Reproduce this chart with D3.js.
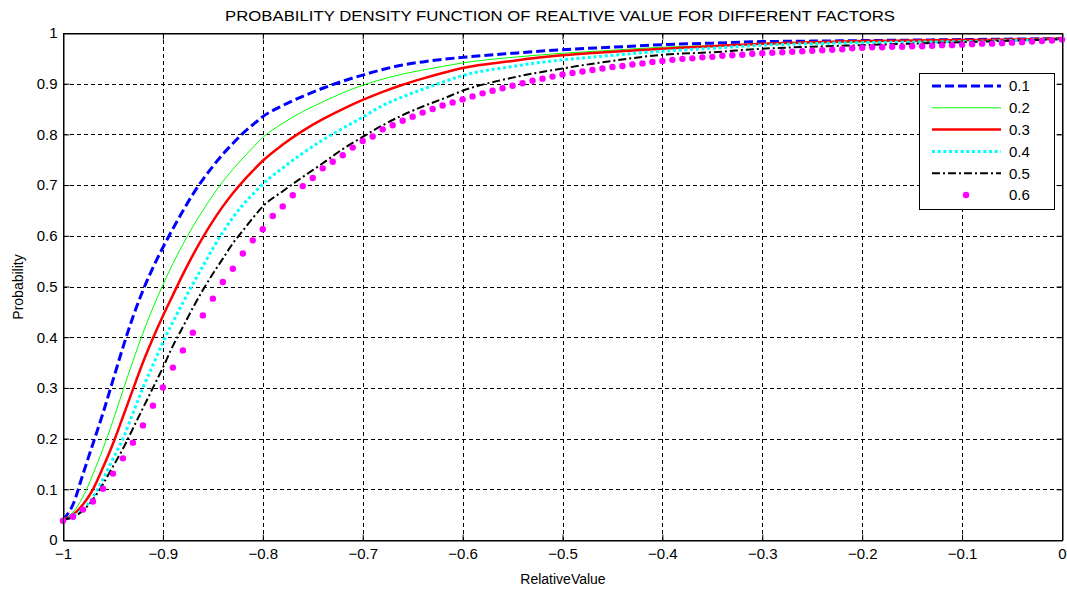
<!DOCTYPE html>
<html><head><meta charset="utf-8">
<script src="https://cdn.jsdelivr.net/npm/d3@7"></script>
<style>
html,body{margin:0;padding:0;background:#fff;}
svg{display:block;font-family:"Liberation Sans",Arial,sans-serif;}
</style></head><body>
<svg id="c" width="1067" height="590"></svg>
<script>
// ---- data ----
const titleText = "PROBABILITY DENSITY FUNCTION OF REALTIVE VALUE FOR DIFFERENT FACTORS";
const xLabel = "RelativeValue";
const yLabel = "Probability";
const xTicks = [-1,-0.9,-0.8,-0.7,-0.6,-0.5,-0.4,-0.3,-0.2,-0.1,0];
const xTickLabels = ["\u22121","\u22120.9","\u22120.8","\u22120.7","\u22120.6","\u22120.5","\u22120.4","\u22120.3","\u22120.2","\u22120.1","0"];
const yTicks = [0,0.1,0.2,0.3,0.4,0.5,0.6,0.7,0.8,0.9,1];
const yTickLabels = ["0","0.1","0.2","0.3","0.4","0.5","0.6","0.7","0.8","0.9","1"];
const seriesNames = ["0.1","0.2","0.3","0.4","0.5","0.6"];

// x positions for line series
const lineX = [-1.00,-0.99,-0.98,-0.97,-0.96,-0.95,-0.94,-0.93,-0.92,-0.91,-0.90,
  -0.89,-0.88,-0.87,-0.86,-0.85,-0.84,-0.83,-0.82,-0.81,-0.80,
  -0.78,-0.76,-0.74,-0.72,-0.70,-0.68,-0.66,-0.64,-0.62,-0.60,
  -0.55,-0.50,-0.45,-0.40,-0.35,-0.30,-0.25,-0.20,-0.15,-0.10,-0.05,0];
const s01 = [0.040,0.070,0.130,0.190,0.250,0.315,0.380,0.440,0.492,0.537,0.577,
  0.614,0.649,0.682,0.711,0.737,0.761,0.782,0.802,0.819,0.835,
  0.857,0.875,0.891,0.905,0.917,0.928,0.937,0.943,0.948,0.952,
  0.960,0.967,0.972,0.977,0.980,0.983,0.984,0.985,0.986,0.987,0.988,0.989];
const s02 = [0.040,0.055,0.085,0.130,0.180,0.235,0.295,0.353,0.408,0.458,0.503,
  0.545,0.583,0.618,0.650,0.680,0.707,0.731,0.753,0.774,0.794,
  0.822,0.845,0.864,0.882,0.897,0.909,0.919,0.927,0.934,0.941,
  0.952,0.960,0.966,0.972,0.975,0.978,0.980,0.982,0.984,0.985,0.987,0.989];
const s03 = [0.040,0.050,0.070,0.100,0.143,0.190,0.243,0.297,0.350,0.398,0.442,
  0.483,0.524,0.562,0.597,0.629,0.658,0.684,0.707,0.728,0.748,
  0.780,0.807,0.830,0.850,0.868,0.884,0.898,0.910,0.921,0.931,
  0.945,0.956,0.963,0.969,0.974,0.979,0.982,0.984,0.985,0.986,0.987,0.989];
const s04 = [0.040,0.047,0.060,0.085,0.120,0.160,0.200,0.250,0.300,0.345,0.390,
  0.430,0.468,0.505,0.540,0.575,0.607,0.636,0.661,0.682,0.702,
  0.734,0.763,0.789,0.812,0.834,0.857,0.874,0.889,0.903,0.916,
  0.934,0.947,0.956,0.964,0.970,0.976,0.979,0.981,0.982,0.983,0.985,0.988];
const s05 = [0.040,0.045,0.058,0.080,0.110,0.145,0.180,0.220,0.260,0.300,0.340,
  0.383,0.420,0.458,0.493,0.525,0.555,0.585,0.610,0.635,0.658,
  0.688,0.716,0.743,0.771,0.795,0.818,0.838,0.855,0.870,0.886,
  0.912,0.930,0.945,0.957,0.962,0.969,0.973,0.976,0.979,0.982,0.985,0.988];
// marker series 0.6, x from -1 to 0 step 0.01
const dotX = d3.range(101).map(i => -1 + i / 100);
const s06 = [0.038,0.046,0.060,0.076,0.101,0.131,0.161,0.192,0.226,0.265,
  0.301,0.340,0.374,0.409,0.443,0.476,0.509,0.535,0.565,0.591,
  0.613,0.639,0.658,0.680,0.698,0.714,0.733,0.746,0.759,0.774,
  0.787,0.796,0.810,0.818,0.827,0.835,0.843,0.850,0.857,0.863,
  0.869,0.875,0.881,0.886,0.891,0.896,0.901,0.906,0.910,0.914,
  0.918,0.921,0.924,0.927,0.930,0.933,0.935,0.938,0.940,0.943,
  0.945,0.947,0.949,0.950,0.952,0.953,0.955,0.956,0.957,0.959,
  0.960,0.961,0.962,0.963,0.964,0.965,0.966,0.967,0.968,0.970,
  0.971,0.972,0.972,0.973,0.973,0.974,0.974,0.975,0.976,0.976,
  0.977,0.978,0.979,0.979,0.980,0.981,0.982,0.983,0.984,0.985,0.987];

// ---- drawing ----
const svg = d3.select("#c");
const L = 63, R = 1062, T = 33, B = 540;
const x = d3.scaleLinear().domain([-1, 0]).range([L, R]);
const y = d3.scaleLinear().domain([0, 1]).range([B, T]);

// grid
const grid = svg.append("g").attr("stroke", "#000").attr("stroke-width", 1).attr("stroke-dasharray", "4,3");
grid.selectAll("line.v").data(xTicks.slice(1, -1)).join("line")
  .attr("x1", d => Math.round(x(d)) + 0.5).attr("x2", d => Math.round(x(d)) + 0.5)
  .attr("y1", T).attr("y2", B);
grid.selectAll("line.h").data(yTicks.slice(1, -1)).join("line")
  .attr("y1", d => Math.round(y(d)) + 0.5).attr("y2", d => Math.round(y(d)) + 0.5)
  .attr("x1", L).attr("x2", R);

// axes
const fmtX = d => xTickLabels[xTicks.indexOf(d)];
const fmtY = d => yTickLabels[yTicks.indexOf(d)];
const gB = svg.append("g").attr("transform", `translate(0,${B + 0.5})`)
  .call(d3.axisBottom(x).tickValues(xTicks).tickFormat(fmtX).tickSizeInner(-6).tickSizeOuter(0).tickPadding(8));
const gL = svg.append("g").attr("transform", `translate(${L + 0.5},0)`)
  .call(d3.axisLeft(y).tickValues(yTicks).tickFormat(fmtY).tickSizeInner(-6).tickSizeOuter(0).tickPadding(6));
const gT = svg.append("g").attr("transform", `translate(0,${T + 0.5})`)
  .call(d3.axisTop(x).tickValues(xTicks).tickFormat("").tickSizeInner(-6).tickSizeOuter(0));
const gR = svg.append("g").attr("transform", `translate(${R + 0.5},0)`)
  .call(d3.axisRight(y).tickValues(yTicks).tickFormat("").tickSizeInner(-6).tickSizeOuter(0));
[gB, gL, gT, gR].forEach(g => {
  g.selectAll("path,line").attr("stroke", "#000").attr("stroke-width", 1);
  g.selectAll("text").attr("fill", "#000").style("font-size", "15px").style("font-family", "'Liberation Sans', Arial, sans-serif");
});

// series
const styles = [
  {color: "#0000ff", width: 3, dash: "9,4"},
  {color: "#00ff00", width: 1, dash: null},
  {color: "#ff0000", width: 2.5, dash: null},
  {color: "#00ffff", width: 3, dash: "3,2.7"},
  {color: "#000000", width: 2, dash: "8,3,2,3"}
];
const lineSeries = [s01, s02, s03, s04, s05];
const line = d3.line().x(d => x(d[0])).y(d => y(d[1])).curve(d3.curveMonotoneX);
lineSeries.forEach((s, i) => {
  svg.append("path").datum(lineX.map((xv, j) => [xv, s[j]]))
    .attr("fill", "none").attr("stroke", styles[i].color)
    .attr("stroke-width", styles[i].width)
    .attr("stroke-dasharray", styles[i].dash)
    .attr("d", line);
});
svg.append("g").selectAll("circle").data(dotX.map((xv, j) => [xv, s06[j]])).join("circle")
  .attr("cx", d => x(d[0])).attr("cy", d => y(d[1])).attr("r", 3.2).attr("fill", "#ff00ff");

// redraw box edges on top
svg.append("rect").attr("x", L + 0.5).attr("y", T + 0.5).attr("width", R - L).attr("height", B - T)
  .attr("fill", "none").attr("stroke", "#000").attr("stroke-width", 1);

// legend
const lg = svg.append("g");
lg.append("rect").attr("x", 919.5).attr("y", 73.5).attr("width", 135).attr("height", 136)
  .attr("fill", "#fff").attr("stroke", "#000").attr("stroke-width", 1);
const rowY = i => 86 + i * 21.8;
seriesNames.forEach((nm, i) => {
  if (i < 5) {
    lg.append("line").attr("x1", 932).attr("x2", 1001).attr("y1", rowY(i)).attr("y2", rowY(i))
      .attr("stroke", styles[i].color).attr("stroke-width", styles[i].width)
      .attr("stroke-dasharray", styles[i].dash);
  } else {
    lg.append("circle").attr("cx", 966).attr("cy", rowY(i)).attr("r", 3.2).attr("fill", "#ff00ff");
  }
  lg.append("text").attr("x", 1009).attr("y", rowY(i)).attr("dy", "0.36em")
    .style("font-size", "15px").attr("fill", "#000").text(nm);
});

// titles
svg.append("text").attr("x", 560).attr("y", 21).attr("text-anchor", "middle")
  .style("font-size", "14px").attr("textLength", 670).attr("lengthAdjust", "spacingAndGlyphs")
  .attr("fill", "#000").text(titleText);
svg.append("text").attr("x", 563).attr("y", 584).attr("text-anchor", "middle")
  .style("font-size", "14px").attr("fill", "#000").text(xLabel);
svg.append("text").attr("transform", "translate(23,287) rotate(-90)").attr("text-anchor", "middle")
  .style("font-size", "14px").attr("fill", "#000").text(yLabel);
</script>
</body></html>
